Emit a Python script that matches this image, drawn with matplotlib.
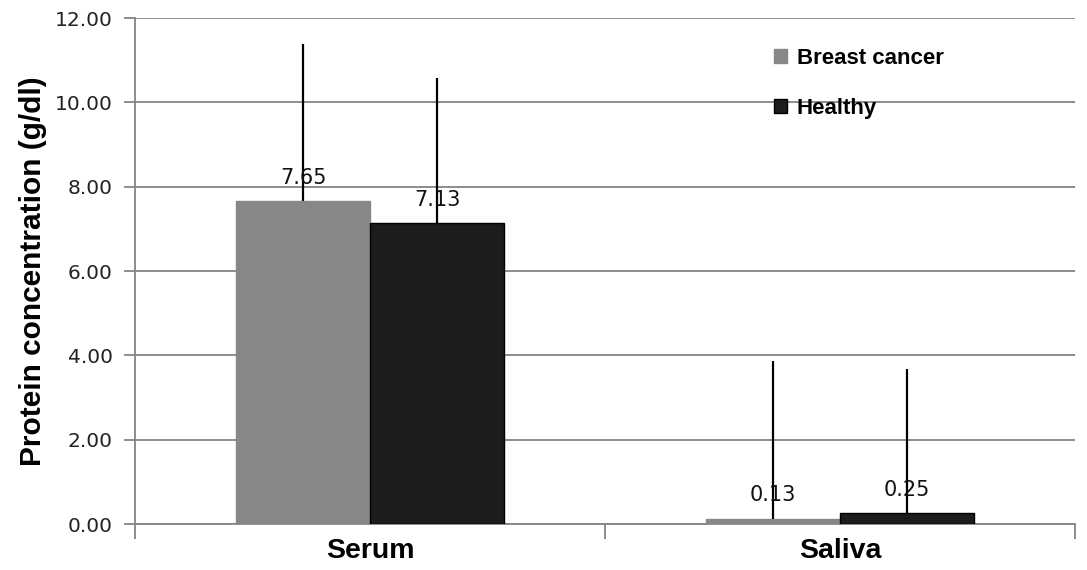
import numpy as np
import matplotlib
matplotlib.use('Agg')
import matplotlib.pyplot as plt
from matplotlib.patches import Patch

# data
categories = ['Serum', 'Saliva']
groups = ['Breast cancer', 'Healthy']
cancer_vals = [7.65, 0.13]
healthy_vals = [7.13, 0.25]
cancer_err = [3.73, 3.73]
healthy_err = [3.44, 3.43]
yticks = [0, 2, 4, 6, 8, 10, 12]

c_gray = '#878787'
c_black = '#1c1c1c'
grid_c = '#848484'

fig = plt.figure(figsize=(10.87, 5.70), dpi=100)
ax = fig.add_axes([0.1242, 0.0807, 0.8648, 0.8877])

x = np.arange(len(categories))
w = 0.285

ax.bar(x - w/2, cancer_vals, w, color=c_gray, edgecolor=c_gray, linewidth=1, zorder=3)
ax.bar(x + w/2, healthy_vals, w, color=c_black, edgecolor='black', linewidth=1, zorder=3)

# upward-only error bars
ax.errorbar(x - w/2, cancer_vals, yerr=[np.zeros(2), cancer_err], fmt='none',
            ecolor='black', elinewidth=1.6, capsize=0, zorder=4)
ax.errorbar(x + w/2, healthy_vals, yerr=[np.zeros(2), healthy_err], fmt='none',
            ecolor='black', elinewidth=1.6, capsize=0, zorder=4)

# value labels
for xi, v in zip(x - w/2, cancer_vals):
    ax.annotate('%.2f' % v, (xi, v), xytext=(0, 17), textcoords='offset points',
                ha='center', va='center', fontsize=15, family='DejaVu Sans', color='#111111', zorder=5)
for xi, v in zip(x + w/2, healthy_vals):
    ax.annotate('%.2f' % v, (xi, v), xytext=(0, 17), textcoords='offset points',
                ha='center', va='center', fontsize=15, family='DejaVu Sans', color='#111111', zorder=5)

ax.set_xlim(-0.5, 1.5)
ax.set_ylim(0, 12)
ax.set_yticks(yticks)
ax.set_yticklabels(['%.2f' % t for t in yticks], fontsize=14.5, family='DejaVu Sans', color='#222222')
ax.yaxis.grid(True, color=grid_c, linewidth=1.3, zorder=0)
ax.set_axisbelow(True)

# category ticks at boundaries, labels centered
ax.set_xticks([-0.5, 0.5, 1.5])
ax.set_xticklabels([])
ax.set_xticks(x, minor=True)
ax.set_xticklabels(categories, minor=True, fontsize=20.5, fontweight='bold', family='Liberation Sans')
ax.tick_params(axis='x', which='major', length=11, width=1.3, color=grid_c, direction='out')
ax.tick_params(axis='x', which='minor', length=0, pad=10)
ax.tick_params(axis='y', length=8, width=1.3, color=grid_c, pad=8)

for s in ['top', 'right']:
    ax.spines[s].set_visible(False)
ax.spines['left'].set_color(grid_c)
ax.spines['left'].set_linewidth(1.3)
ax.spines['bottom'].set_color(grid_c)
ax.spines['bottom'].set_linewidth(1.3)

ax.set_ylabel('Protein concentration (g/dl)', fontsize=21.5, fontweight='bold', family='Liberation Sans', labelpad=6)

handles = [Patch(facecolor=c_gray, edgecolor=c_gray), Patch(facecolor=c_black, edgecolor='black')]
leg = ax.legend(handles, groups, loc='upper left', bbox_to_anchor=(0.658, 0.98), frameon=False,
                prop={'family': 'Liberation Sans', 'weight': 'bold', 'size': 16},
                handlelength=0.6, handleheight=0.6, handletextpad=0.45, labelspacing=1.3)

plt.savefig('out.png', dpi=100)
